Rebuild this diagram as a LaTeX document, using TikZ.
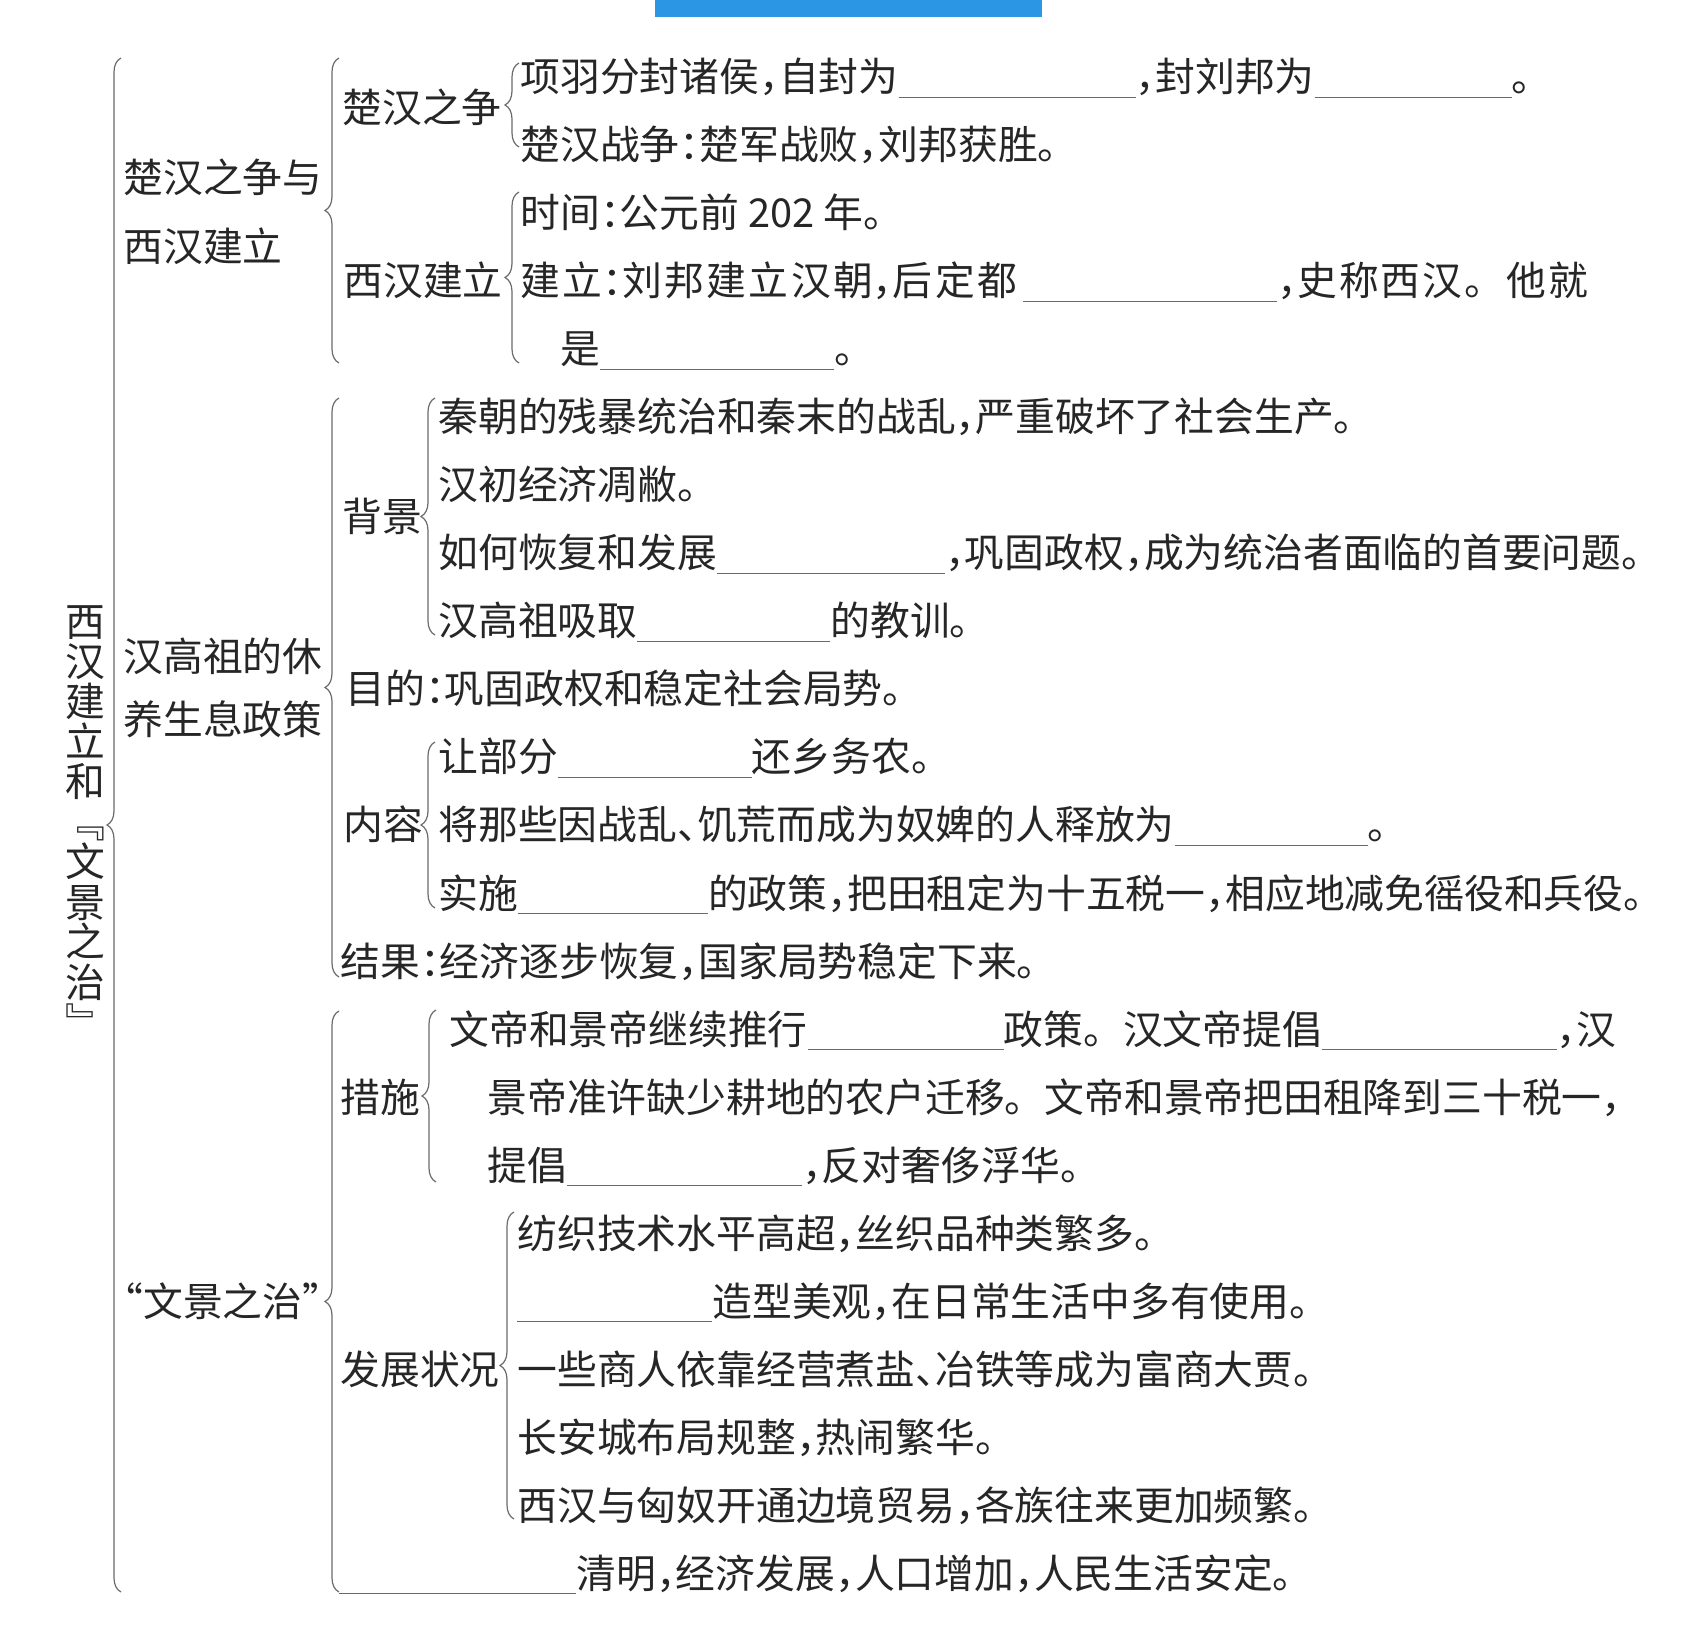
\documentclass[tikz,border=0pt]{standalone}
\usepackage{fontspec}
\newfontfamily\cjk{Noto Sans CJK SC}
\usetikzlibrary{decorations.pathreplacing}

% half-width punctuation, quotes and answer blanks (blank width given in pixels)
\newcommand{\hw}[1]{\makebox[0.5em][l]{#1}}
\newcommand{\qopen}{\makebox[0.5em][r]{“}}
\newcommand{\qclose}{\makebox[0.5em][l]{”}}
\newcommand{\blank}[1]{\textcolor{lineColour}{\rule[-3.2pt]{\dimexpr #1pt/2\relax}{0.7pt}}}

\begin{document}
\begin{tikzpicture}[x=0.5pt, y=-0.5pt,
    txt/.style={anchor=base west, inner sep=0pt, text=textColour,
        font=\cjk\fontsize{19.9pt}{24pt}\selectfont},
    wide/.style={font=\cjk\fontsize{19.9pt}{24pt}\selectfont\addfontfeature{LetterSpace=#1}},
    brc/.style={decorate, decoration={brace, amplitude=7pt},
        draw=lineColour, line width=0.6pt}]

    \definecolor{textColour}{HTML}{262626}
    \definecolor{lineColour}{HTML}{6A6A6A}
    \definecolor{bannerBlue}{HTML}{2A96E4}

    % Page and banner (cut off at the top edge)
    \fill[white] (0,0) rectangle (1704,1636);
    \useasboundingbox (0,0) rectangle (1704,1636);
    \fill[bannerBlue] (655,0) rectangle (1042,17);

    % Root title, set vertically
    \foreach \ch [count=\i] in {西,汉,建,立,和,﹃,文,景,之,治,﹄}
        \node[txt, anchor=base] (root\i) at (85,{637+40*(\i-1)}) {\ch};

    % Part 1: Chu-Han war and founding of Western Han
    \node[txt] (chuhanA) at (123,193) {楚汉之争与};
    \node[txt] (chuhanB) at (123,262) {西汉建立};
    \node[txt] (zheng) at (342,123) {楚汉之争};
    \node[txt] (jianli) at (343,296) {西汉建立};
    \node[txt] (r1) at (520,92) {项羽分封诸侯\hw{，}自封为\blank{237}\hw{，}封刘邦为\blank{197}。};
    \node[txt] (r2) at (520,160) {楚汉战争\hw{：}楚军战败\hw{，}刘邦获胜。};
    \node[txt] (r3) at (520,228) {时间\hw{：}公元前 202 年。};
    \node[txt, wide=6] (r4) at (520,296) {建立\hw{：}刘邦建立汉朝\hw{，}后定都};
    \node[txt] (r4b) at (1023,296) {\blank{254}\hw{，}{\addfontfeature{LetterSpace=5}史称西汉。他就}};
    \node[txt] (r5) at (560,364) {是\blank{234}。};

    % Part 2: recuperation policy
    \node[txt] (yangA) at (123,672) {汉高祖的休};
    \node[txt] (yangB) at (123,735) {养生息政策};
    \node[txt] (beijing) at (342,532) {背景};
    \node[txt] (r6) at (438,432) {秦朝的残暴统治和秦末的战乱\hw{，}严重破坏了社会生产。};
    \node[txt] (r7) at (438,500) {汉初经济凋敝。};
    \node[txt] (r8) at (438,568) {如何恢复和发展\blank{228}\hw{，}巩固政权\hw{，}成为统治者面临的首要问题。};
    \node[txt] (r9) at (438,636) {汉高祖吸取\blank{193}的教训。};
    \node[txt] (mudi) at (345,704) {目的\hw{：}巩固政权和稳定社会局势。};
    \node[txt] (neirong) at (343,840) {内容};
    \node[txt] (r11) at (438,772) {让部分\blank{194}还乡务农。};
    \node[txt] (r12) at (438,840) {将那些因战乱\hw{、}饥荒而成为奴婢的人释放为\blank{193}。};
    \node[txt] (r13) at (438,908) {实施\blank{190}的政策\hw{，}把田租定为十五税一\hw{，}相应地减免徭役和兵役。};
    \node[txt] (jieguo) at (340,976) {结果\hw{：}经济逐步恢复\hw{，}国家局势稳定下来。};

    % Part 3: rule of Wen and Jing
    \node[txt] (wenjing) at (123,1316) {\qopen 文景之治\qclose};
    \node[txt] (cuoshi) at (340,1112) {措施};
    \node[txt] (r15) at (449,1044) {文帝和景帝继续推行\blank{196}政策。汉文帝提倡\blank{235}\hw{，}汉};
    \node[txt] (r16) at (487,1112) {景帝准许缺少耕地的农户迁移。文帝和景帝把田租降到三十税一\hw{，}};
    \node[txt] (r17) at (487,1180) {提倡\blank{235}\hw{，}反对奢侈浮华。};
    \node[txt] (fazhan) at (340,1384) {发展状况};
    \node[txt] (r18) at (517,1248) {纺织技术水平高超\hw{，}丝织品种类繁多。};
    \node[txt] (r19) at (517,1316) {\blank{195}造型美观\hw{，}在日常生活中多有使用。};
    \node[txt] (r20) at (517,1384) {一些商人依靠经营煮盐\hw{、}冶铁等成为富商大贾。};
    \node[txt] (r21) at (517,1452) {长安城布局规整\hw{，}热闹繁华。};
    \node[txt] (r22) at (517,1520) {西汉与匈奴开通边境贸易\hw{，}各族往来更加频繁。};
    \node[txt] (r23) at (339,1588) {\blank{237}清明\hw{，}经济发展\hw{，}人口增加\hw{，}人民生活安定。};

    % Brace ends (drawn bottom to top, so the tip points left)
    \coordinate (rootTop) at (121,58);     \coordinate (rootBot) at (121,1592);
    \coordinate (partATop) at (339,58);    \coordinate (partABot) at (339,363);
    \coordinate (partBTop) at (339,398);   \coordinate (partBBot) at (339,977);
    \coordinate (partCTop) at (339,1011);  \coordinate (partCBot) at (339,1592);
    \coordinate (zhengTop) at (519,63);    \coordinate (zhengBot) at (519,147);
    \coordinate (jianliTop) at (519,192);  \coordinate (jianliBot) at (519,363);
    \coordinate (beijingTop) at (435,398); \coordinate (beijingBot) at (435,635);
    \coordinate (neirongTop) at (435,742); \coordinate (neirongBot) at (435,908);
    \coordinate (cuoshiTop) at (436,1010); \coordinate (cuoshiBot) at (436,1182);
    \coordinate (fazhanTop) at (514,1212); \coordinate (fazhanBot) at (514,1519);

    % Draw braces
    \foreach \b in {root,partA,partB,partC,zheng,jianli,beijing,neirong,cuoshi,fazhan}
        \draw[brc] (\b Bot) -- (\b Top);

\end{tikzpicture}
\end{document}
